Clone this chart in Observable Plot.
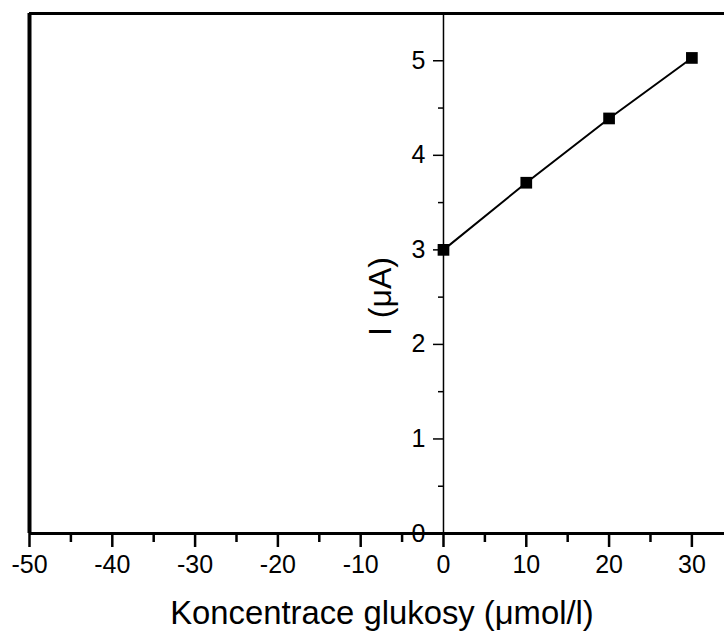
<!DOCTYPE html>
<html>
<head>
<meta charset="utf-8">
<script src="https://cdn.jsdelivr.net/npm/d3@7"></script>
<script src="https://cdn.jsdelivr.net/npm/@observablehq/plot@0.6"></script>
<style>
  html, body { margin: 0; padding: 0; background: #fff; }
  svg { display: block; }
</style>
</head>
<body>
<div id="chart"></div>
<script>
// Data
const concentration = [0, 10, 20, 30];
const current = [3.00, 3.71, 4.39, 5.03];
const xMajorTicks = [-50, -40, -30, -20, -10, 0, 10, 20, 30];
const xMinorTicks = [-45, -35, -25, -15, -5, 5, 15, 25];
const yMajorTicks = [0, 1, 2, 3, 4, 5];
const yMinorTicks = [0.5, 1.5, 2.5, 3.5, 4.5];
const xTitle = "Koncentrace glukosy (μmol/l)";
const yTitle = "I (μA)";

const points = concentration.map((x, i) => ({x, y: current[i]}));

const W = 724, H = 631;
const mL = 29, mT = 13, mB = 98, mR = 0;
const xMin = -50, xMax = 33.94, yMin = 0, yMax = 5.5;
const xZeroPx = mL + (0 - xMin) / (xMax - xMin) * (W - mL - mR);

const font = "'Liberation Sans', Arial, sans-serif";

const chart = Plot.plot({
  width: W,
  height: H,
  marginLeft: mL,
  marginRight: mR,
  marginTop: mT,
  marginBottom: mB,
  style: {fontFamily: font, background: "#fff", color: "#000"},
  x: {domain: [xMin, xMax], label: null},
  y: {domain: [yMin, yMax], label: null},
  marks: [
    // frame (top, left, bottom)
    Plot.ruleY([yMax], {stroke: "#000", strokeWidth: 3}),
    Plot.ruleX([xMin], {stroke: "#000", strokeWidth: 4}),
    // y axis line at x = 0
    Plot.ruleX([0], {stroke: "#000", strokeWidth: 1.5}),
    // x axis
    Plot.axisX({ticks: xMajorTicks, tickSize: 14, tickPadding: 8, strokeWidth: 2.5,
      fontSize: 25, tickFormat: d => String(d), label: null}),
    Plot.axisX({ticks: xMinorTicks, tickSize: 9, strokeWidth: 2.5, text: null, label: null}),
    Plot.ruleY([yMin], {stroke: "#000", strokeWidth: 3}),
    // y axis at x = 0
    Plot.axisY({anchor: "left", dx: xZeroPx - mL, ticks: yMajorTicks, tickSize: 10, tickPadding: 8,
      strokeWidth: 1.5, fontSize: 25, tickFormat: d => String(d), label: null}),
    Plot.axisY({anchor: "left", dx: xZeroPx - mL, ticks: yMinorTicks, tickSize: 5,
      strokeWidth: 1.5, text: null, label: null}),
    // titles
    Plot.text([xTitle], {frameAnchor: "bottom", text: d => d, dx: 5, dy: 79.5,
      fontSize: 32.8, fill: "#000", lineAnchor: "middle", textAnchor: "middle"}),
    Plot.text([yTitle], {frameAnchor: "left", text: d => d, dx: 380 - mL, dy: 23,
      rotate: -90, fontSize: 32, fill: "#000", lineAnchor: "middle", textAnchor: "middle"}),
    // data
    Plot.line(points, {x: "x", y: "y", stroke: "#000", strokeWidth: 2}),
    Plot.dot(points, {x: "x", y: "y", symbol: "square", r: 6.6, fill: "#000", stroke: "none"})
  ]
});

document.getElementById("chart").appendChild(chart);
</script>
</body>
</html>
